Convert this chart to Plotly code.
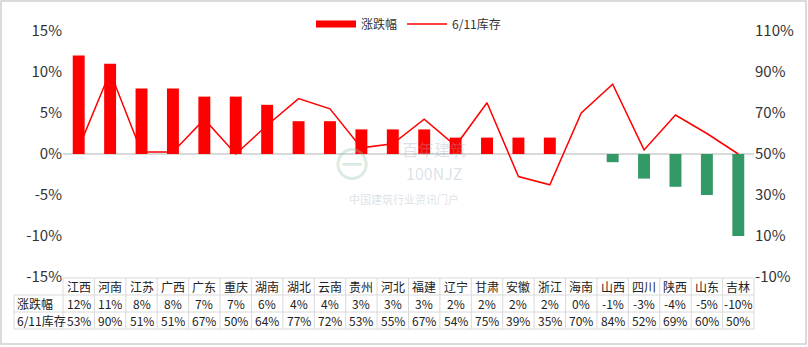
import plotly.graph_objects as go

provinces = ["江西","河南","江苏","广西","广东","重庆","湖南","湖北","云南","贵州","河北",
             "福建","辽宁","甘肃","安徽","浙江","海南","山西","四川","陕西","山东","吉林"]
change_pct = [12, 11, 8, 8, 7, 7, 6, 4, 4, 3, 3, 3, 2, 2, 2, 2, 0, -1, -3, -4, -5, -10]
stock_pct = [53, 90, 51, 51, 67, 50, 64, 77, 72, 53, 55, 67, 54, 75, 39, 35, 70, 84, 52, 69, 60, 50]
row_labels = ["涨跌幅", "6/11库存"]
left_ticks = [-15, -10, -5, 0, 5, 10, 15]
right_ticks = [-10, 10, 30, 50, 70, 90, 110]

RED = "#FF0000"
GREEN = "#339966"
GRID = "#D9D9D9"
FONT = "Noto Sans CJK SC"

W, H = 808, 347
ML, MR, MT, MB = 63, 54, 31, 70
pw = W - ML - MR
ph = H - MT - MB

n = len(provinces)
x = list(range(n))
bar_colors = [RED if v >= 0 else GREEN for v in change_pct]

fig = go.Figure()
fig.add_trace(go.Bar(x=x, y=change_pct, name="涨跌幅", marker=dict(color=bar_colors, line=dict(width=0)),
                     width=0.38, yaxis="y", showlegend=False))
# legend-only entry for the bar series (wide red rectangle like the reference)
fig.add_trace(go.Scatter(x=[None], y=[None], name="涨跌幅", mode="lines",
                         line=dict(color=RED, width=7), yaxis="y", showlegend=True))
fig.add_trace(go.Scatter(x=x, y=stock_pct, name="6/11库存", mode="lines",
                         line=dict(color=RED, width=1.5), yaxis="y2"))


def py(pix):
    return (H - MB - pix) / ph


def px(pix):
    return (pix - ML) / pw


shapes = []
annotations = []
r0, r1, r2, r3 = 278, 295, 312, 329
left_label_x = 14
line = dict(color=GRID, width=1)
shapes.append(dict(type="line", xref="paper", yref="paper", x0=0, x1=1, y0=py(r0), y1=py(r0), line=line))
for r in (r1, r2, r3):
    shapes.append(dict(type="line", xref="paper", yref="paper", x0=px(left_label_x), x1=1, y0=py(r), y1=py(r), line=line))
for i in range(n + 1):
    xp = i / n
    shapes.append(dict(type="line", xref="paper", yref="paper", x0=xp, x1=xp, y0=py(r0), y1=py(r3), line=line))
shapes.append(dict(type="line", xref="paper", yref="paper", x0=px(left_label_x), x1=px(left_label_x),
                   y0=py(r1), y1=py(r3), line=line))
shapes.append(dict(type="rect", xref="paper", yref="paper", x0=px(1), x1=px(806), y0=py(1), y1=py(344),
                   line=dict(color="#D0D0D0", width=1.5), layer="below"))

tfont = dict(family=FONT, size=12, color="#222222")
for i, name in enumerate(provinces):
    xc = (i + 0.5) / n
    annotations.append(dict(xref="paper", yref="paper", x=xc, y=py((r0 + r1) / 2), text=name,
                            showarrow=False, font=tfont, xanchor="center", yanchor="middle"))
    annotations.append(dict(xref="paper", yref="paper", x=xc, y=py((r1 + r2) / 2), text=f"{change_pct[i]}%",
                            showarrow=False, font=tfont, xanchor="center", yanchor="middle"))
    annotations.append(dict(xref="paper", yref="paper", x=xc, y=py((r2 + r3) / 2), text=f"{stock_pct[i]}%",
                            showarrow=False, font=tfont, xanchor="center", yanchor="middle"))
annotations.append(dict(xref="paper", yref="paper", x=px(left_label_x + 1), y=py((r1 + r2) / 2), text=row_labels[0],
                        showarrow=False, font=tfont, xanchor="left", yanchor="middle"))
annotations.append(dict(xref="paper", yref="paper", x=px(left_label_x + 1), y=py((r2 + r3) / 2), text=row_labels[1],
                        showarrow=False, font=tfont, xanchor="left", yanchor="middle"))

# watermark
wm = "rgba(150,170,190,0.35)"
annotations.append(dict(xref="paper", yref="paper", x=px(352), y=py(161), text="⊖", showarrow=False,
                        font=dict(family=FONT, size=42, color="rgba(150,200,170,0.35)"), xanchor="center", yanchor="middle"))
annotations.append(dict(xref="paper", yref="paper", x=px(434), y=py(149), text="百年建筑", showarrow=False,
                        font=dict(family=FONT, size=16, color=wm), xanchor="center", yanchor="middle"))
annotations.append(dict(xref="paper", yref="paper", x=px(434), y=py(173), text="100NJZ", showarrow=False,
                        font=dict(family=FONT, size=16, color=wm), xanchor="center", yanchor="middle"))
annotations.append(dict(xref="paper", yref="paper", x=px(404), y=py(199), text="中国建筑行业资讯门户", showarrow=False,
                        font=dict(family=FONT, size=11, color=wm), xanchor="center", yanchor="middle"))

fig.update_layout(
    width=W, height=H,
    margin=dict(l=ML, r=MR, t=MT, b=MB, autoexpand=False),
    paper_bgcolor="white", plot_bgcolor="white",
    font=dict(family=FONT, color="#333333"),
    showlegend=True,
    legend=dict(orientation="h", x=0.5, xanchor="center", y=1 + (MT - 24) / ph, yanchor="middle",
                font=dict(family=FONT, size=12, color="#333333"), bgcolor="rgba(0,0,0,0)",
                itemwidth=40),
    xaxis=dict(range=[-0.5, n - 0.5], showticklabels=False, showgrid=False, zeroline=False,
               showline=False, ticks=""),
    yaxis=dict(range=[-15, 15], tickvals=left_ticks, ticktext=[f"{v}%" for v in left_ticks],
               showgrid=False, zeroline=True, zerolinecolor=GRID, zerolinewidth=1.5,
               showline=False, tickfont=dict(family=FONT, size=15, color="#333333"), ticklen=0),
    yaxis2=dict(range=[-10, 110], tickvals=right_ticks, ticktext=[f"{v}%" for v in right_ticks],
                overlaying="y", side="right", showgrid=False, zeroline=False, showline=False,
                tickfont=dict(family=FONT, size=15, color="#333333"), ticklen=0),
    shapes=shapes,
    annotations=annotations,
)

fig.write_html("out.html")
